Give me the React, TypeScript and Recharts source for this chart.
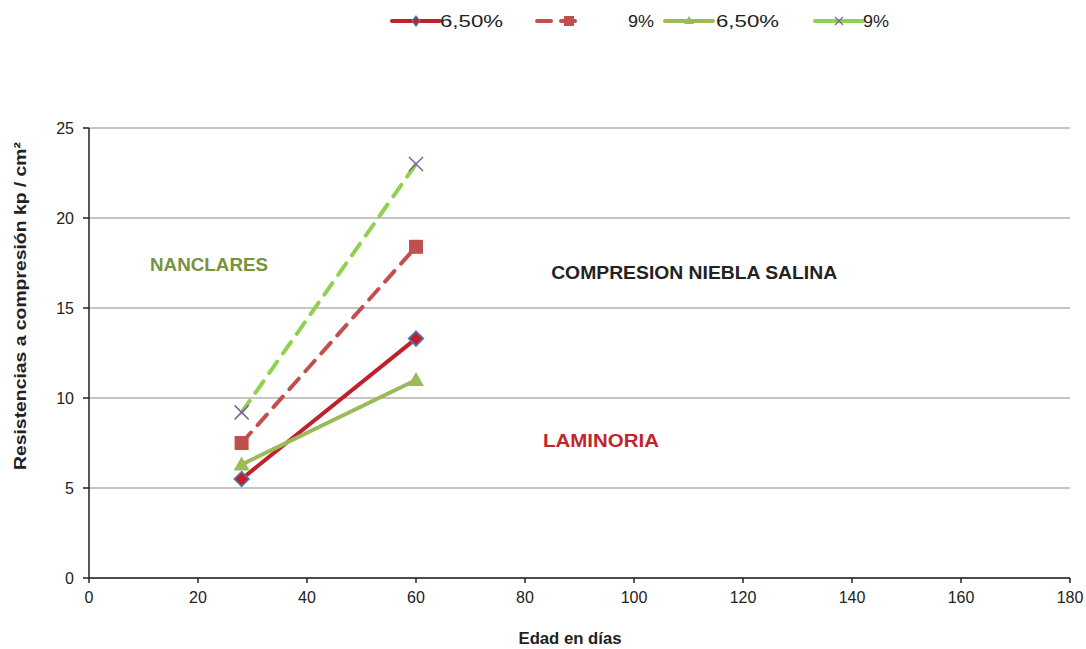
import React from 'react';
import { LineChart, Line, XAxis, YAxis, CartesianGrid, ReferenceDot } from 'recharts';

const ages = [28, 60];
const laminoria65 = [5.5, 13.3];
const laminoria9 = [7.5, 18.4];
const nanclares65 = [6.3, 11.0];
const nanclares9 = [9.2, 23.0];
const xTicks = [0, 20, 40, 60, 80, 100, 120, 140, 160, 180];
const yTicks = [0, 5, 10, 15, 20, 25];

const toRows = (vals: number[]) => ages.map((x, i) => ({ x, y: vals[i] }));

const FONT = '"Liberation Sans", Arial, sans-serif';

const Diamond = (p: any) => {
  const { cx, cy } = p;
  if (cx == null || cy == null) return null;
  const s = 7.5;
  return <path key={`d${cx}`} d={`M${cx},${cy - s}L${cx + s},${cy}L${cx},${cy + s}L${cx - s},${cy}Z`} fill="#C0202A" stroke="#4F81BD" strokeWidth={1.5} />;
};
const Square = (p: any) => {
  const { cx, cy } = p;
  if (cx == null || cy == null) return null;
  return <rect key={`s${cx}`} x={cx - 7} y={cy - 7} width={14} height={14} fill="#C0504D" />;
};
const Triangle = (p: any) => {
  const { cx, cy } = p;
  if (cx == null || cy == null) return null;
  return <path key={`t${cx}`} d={`M${cx},${cy - 8}L${cx + 8},${cy + 6}L${cx - 8},${cy + 6}Z`} fill="#9BBB59" />;
};
const Cross = (p: any) => {
  const { cx, cy } = p;
  if (cx == null || cy == null) return null;
  const s = 7;
  return (
    <path key={`x${cx}`} d={`M${cx - s},${cy - s}L${cx + s},${cy + s}M${cx - s},${cy + s}L${cx + s},${cy - s}`} stroke="#8064A2" strokeWidth={1.5} />
  );
};

const legendItems = [
  { label: '6,50%', color: '#C0202A', dash: undefined, marker: 'diamond', x: 392, tx: 440, w: 63 },
  { label: '9%', color: '#C0504D', dash: '14 10', marker: 'square', x: 537, tx: 628, w: 26 },
  { label: '6,50%', color: '#9BBB59', dash: undefined, marker: 'triangle', x: 665, tx: 716, w: 63 },
  { label: '9%', color: '#92D050', dash: undefined, marker: 'cross', x: 815, tx: 863, w: 26 },
];

const TopLegend = () => (
  <svg width={1086} height={40} style={{ position: 'absolute', left: 0, top: 0 }}>
    {legendItems.map((it, i) => {
      const cx = it.x + 24;
      const cy = 21;
      let m: React.ReactNode = null;
      if (it.marker === 'diamond') m = <path d={`M${cx},${cy - 5}L${cx + 4},${cy}L${cx},${cy + 5}L${cx - 4},${cy}Z`} fill="#C0202A" stroke="#4F81BD" strokeWidth={1.2} />;
      if (it.marker === 'square') m = <rect x={cx + 3} y={cy - 5} width={10} height={10} fill="#C0504D" />;
      if (it.marker === 'triangle') m = <path d={`M${cx},${cy - 5}L${cx + 5},${cy + 3}L${cx - 5},${cy + 3}Z`} fill="#9BBB59" />;
      if (it.marker === 'cross') m = <path d={`M${cx - 4},${cy - 4}L${cx + 4},${cy + 4}M${cx - 4},${cy + 4}L${cx + 4},${cy - 4}`} stroke="#8064A2" strokeWidth={1.2} />;
      return (
        <g key={i}>
          <line x1={it.x} y1={cy} x2={it.x + 48} y2={cy} stroke={it.color} strokeWidth={4} strokeLinecap="round" strokeDasharray={it.dash} />
          {m}
          <text x={it.tx} y={cy + 6} fontSize={17} fill="#222" fontFamily={FONT} textLength={it.w} lengthAdjust="spacingAndGlyphs">
            {it.label}
          </text>
        </g>
      );
    })}
  </svg>
);

const makeLabel = (text: string, color: string, w: number) => (props: any) => {
  const { viewBox } = props;
  return (
    <text x={viewBox.x} y={viewBox.y} fill={color} fontSize={18.5} fontWeight="bold" fontFamily={FONT} dominantBaseline="middle" textLength={w} lengthAdjust="spacingAndGlyphs">
      {text}
    </text>
  );
};

const YLabel = (props: any) => (
  <text x={22} y={306} transform="rotate(-90 22 306)" textAnchor="middle" dominantBaseline="middle" fill="#222" fontSize={16} fontWeight="bold" fontFamily={FONT} textLength={328} lengthAdjust="spacingAndGlyphs">
    Resistencias a compresión kp / cm²
  </text>
);

const XLabel = (props: any) => (
  <text x={570} y={640} textAnchor="middle" dominantBaseline="middle" fill="#222" fontSize={16} fontWeight="bold" fontFamily={FONT} textLength={103} lengthAdjust="spacingAndGlyphs">
    Edad en días
  </text>
);

export default function App() {
  return (
    <div style={{ position: 'absolute', left: 0, top: 0, width: 1086, height: 649, background: '#fff' }}>
      <LineChart width={1086} height={649} margin={{ top: 128, right: 16, bottom: 41, left: 29 }}>
        <CartesianGrid horizontal vertical={false} stroke="#8a8a8a" strokeWidth={1} />
        <XAxis
          type="number"
          dataKey="x"
          domain={[0, 180]}
          ticks={xTicks}
          height={30}
          tick={{ fill: '#222', fontSize: 16, fontFamily: FONT }}
          tickSize={5}
          tickMargin={9}
          stroke="#222"
          strokeWidth={1.5}
          label={<XLabel />}
        />
        <YAxis
          type="number"
          domain={[0, 25]}
          ticks={yTicks}
          width={60}
          tick={{ fill: '#222', fontSize: 16, fontFamily: FONT }}
          tickSize={6}
          tickMargin={9}
          stroke="#222"
          strokeWidth={1.5}
          label={<YLabel />}
        />
        <YAxis yAxisId="r" orientation="right" type="number" domain={[0, 25]} ticks={yTicks} width={0} tick={false} tickLine={false} stroke="#222" strokeWidth={1.5} />
        <XAxis xAxisId="t" orientation="top" type="number" domain={[0, 180]} height={0} tick={false} tickLine={false} stroke="#222" strokeWidth={1.5} />
        <Line data={toRows(laminoria65)} dataKey="y" name="6,50%" stroke="#C0202A" strokeWidth={4} dot={<Diamond />} isAnimationActive={false} />
        <Line data={toRows(laminoria9)} dataKey="y" name="9%" stroke="#C0504D" strokeWidth={4} strokeDasharray="14 10" strokeLinecap="round" dot={<Square />} isAnimationActive={false} />
        <Line data={toRows(nanclares65)} dataKey="y" name="6,50%" stroke="#9BBB59" strokeWidth={4} dot={<Triangle />} isAnimationActive={false} />
        <Line data={toRows(nanclares9)} dataKey="y" name="9%" stroke="#92D050" strokeWidth={4} strokeDasharray="14 10" strokeLinecap="round" dot={<Cross />} isAnimationActive={false} />
        <ReferenceDot x={11.2} y={17.35} r={0} label={makeLabel('NANCLARES', '#77933C', 118)} />
        <ReferenceDot x={84.8} y={16.9} r={0} label={makeLabel('COMPRESION NIEBLA SALINA', '#222', 286)} />
        <ReferenceDot x={83.3} y={7.55} r={0} label={makeLabel('LAMINORIA', '#C0272D', 116)} />
      </LineChart>
      <TopLegend />
    </div>
  );
}
